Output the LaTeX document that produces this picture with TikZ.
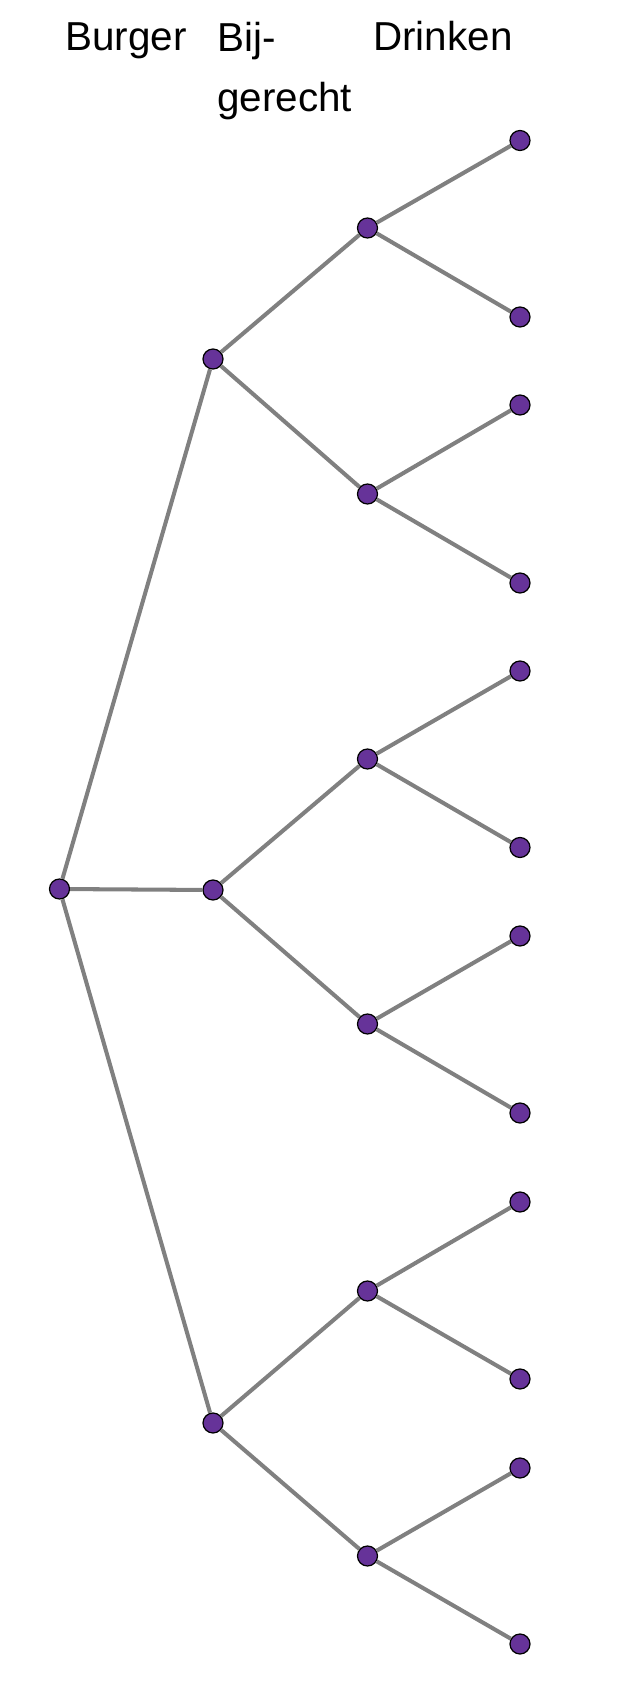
\documentclass[tikz,border=0pt]{standalone}
\usepackage{fontspec}
\setmainfont{Liberation Sans}
\definecolor{dotpurple}{RGB}{102,51,153}
\definecolor{edgegray}{RGB}{128,128,128}
\tikzset{
	dot/.style={circle, draw=black, line width=0.7pt, fill=dotpurple, minimum size=0.4cm, inner sep=0pt},
	edge/.style={draw=edgegray, line width=2.3pt},
	head/.style={anchor=base west, inner sep=0pt, font=\fontsize{23}{34.5}\selectfont}
}
\begin{document}
\begin{tikzpicture}[x=0.02cm, y=-0.02cm]
	\useasboundingbox (0, 0) rectangle (627, 1700);
	% column headings
	\node[head] (hb) at (65, 51) {Burger};
	\node[head, align=left] (hs) at (217, 112) {Bij-\\gerecht};
	\node[head] (hd) at (373, 51) {Drinken};

	% the nodes of the tree
	\node[dot] (r) at (59.5, 889) {};

	\node[dot] (b1) at (213, 359) {};
	\node[dot] (b2) at (213, 890) {};
	\node[dot] (b3) at (213, 1423) {};

	\node[dot] (s1) at (367.5, 228) {};
	\node[dot] (s2) at (367.5, 494) {};
	\node[dot] (s3) at (367.5, 759) {};
	\node[dot] (s4) at (367.5, 1024) {};
	\node[dot] (s5) at (367.5, 1291) {};
	\node[dot] (s6) at (367.5, 1556) {};

	\node[dot] (d1) at (520, 140.5) {};
	\node[dot] (d2) at (520, 317) {};
	\node[dot] (d3) at (520, 405) {};
	\node[dot] (d4) at (520, 583) {};
	\node[dot] (d5) at (520, 671) {};
	\node[dot] (d6) at (520, 847.5) {};
	\node[dot] (d7) at (520, 936) {};
	\node[dot] (d8) at (520, 1113) {};
	\node[dot] (d9) at (520, 1202) {};
	\node[dot] (d10) at (520, 1379) {};
	\node[dot] (d11) at (520, 1468) {};
	\node[dot] (d12) at (520, 1644) {};

	% the branches
	\draw[edge] (r) -- (b1);
	\draw[edge] (r) -- (b2);
	\draw[edge] (r) -- (b3);
	\draw[edge] (b1) -- (s1);
	\draw[edge] (b1) -- (s2);
	\draw[edge] (b2) -- (s3);
	\draw[edge] (b2) -- (s4);
	\draw[edge] (b3) -- (s5);
	\draw[edge] (b3) -- (s6);
	\draw[edge] (s1) -- (d1);
	\draw[edge] (s1) -- (d2);
	\draw[edge] (s2) -- (d3);
	\draw[edge] (s2) -- (d4);
	\draw[edge] (s3) -- (d5);
	\draw[edge] (s3) -- (d6);
	\draw[edge] (s4) -- (d7);
	\draw[edge] (s4) -- (d8);
	\draw[edge] (s5) -- (d9);
	\draw[edge] (s5) -- (d10);
	\draw[edge] (s6) -- (d11);
	\draw[edge] (s6) -- (d12);
\end{tikzpicture}
\end{document}
